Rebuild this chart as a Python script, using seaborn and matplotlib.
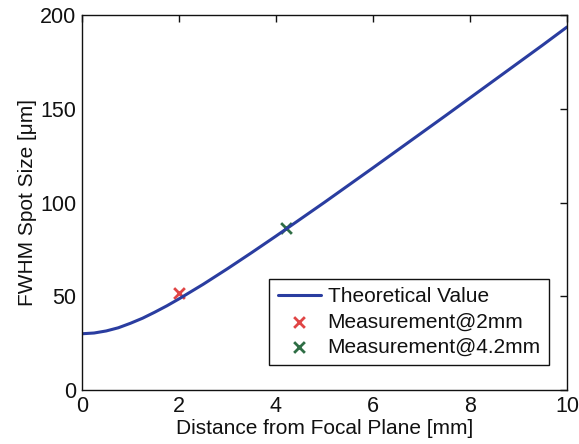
import matplotlib
matplotlib.use("Agg")
import matplotlib.pyplot as plt
import seaborn as sns
import pandas as pd

# Theoretical curve
z_mm = [0, 0.25, 0.5, 0.75, 1, 1.25, 1.5, 1.75, 2, 2.5, 3, 3.5, 4, 4.5, 5, 5.5,
        6, 6.5, 7, 7.5, 8, 8.5, 9, 9.5, 10]
spot_um = [30.0, 30.4, 31.5, 33.2, 35.6, 38.3, 41.5, 44.9, 48.6, 56.4, 64.7, 73.3,
           82.1, 91.1, 100.1, 109.3, 118.5, 127.8, 137.1, 146.4, 155.8, 165.2,
           174.6, 184.0, 193.6]

# Measurements
meas_labels = ["Measurement@2mm", "Measurement@4.2mm"]
meas_z = [2.0, 4.2]
meas_spot = [52.0, 86.5]
meas_colors = ["#e04545", "#2f6e45"]

line_label = "Theoretical Value"
line_color = "#2a3da0"

xticks = [0, 2, 4, 6, 8, 10]
yticks = [0, 50, 100, 150, 200]

sns.set_style("white")
plt.rcParams["font.family"] = ["Liberation Sans", "DejaVu Sans"]

fig = plt.figure(figsize=(5.79, 4.44), dpi=100)
ax = fig.add_axes([0.1416, 0.1216, 0.8377, 0.8446])

df_line = pd.DataFrame({"z": z_mm, "w": spot_um})
sns.lineplot(data=df_line, x="z", y="w", ax=ax, color=line_color, linewidth=2.2,
             label=line_label)

for lab, zx, wy, c in zip(meas_labels, meas_z, meas_spot, meas_colors):
    sns.scatterplot(x=[zx], y=[wy], ax=ax, marker="x", s=60, color=c,
                    linewidth=2.0, label=lab)

ax.set_xlim(0, 10)
ax.set_ylim(0, 200)
ax.set_xticks(xticks)
ax.set_yticks(yticks)
ax.tick_params(direction="in", length=5, width=1, top=True, right=True,
               labelsize=15.5, pad=4, colors="#111111", labelcolor="#111111")
for sp in ax.spines.values():
    sp.set_visible(True)
    sp.set_color("#111111")
    sp.set_linewidth(1.0)

ax.set_xlabel("Distance from Focal Plane [mm]", fontsize=15, color="#111111", labelpad=2)
ax.set_ylabel("FWHM Spot Size [\u03bcm]", fontsize=15, color="#111111", labelpad=2)

leg = ax.legend(loc="upper left", bbox_to_anchor=(0.386, 0.296), fontsize=15,
                frameon=True, fancybox=False, edgecolor="#111111", framealpha=1,
                handlelength=2.1, handletextpad=0.3, borderpad=0.4, labelspacing=0.3,
                borderaxespad=0)
leg.get_frame().set_linewidth(1.0)
for t in leg.get_texts():
    t.set_color("#111111")

fig.savefig("out.png", dpi=100)
